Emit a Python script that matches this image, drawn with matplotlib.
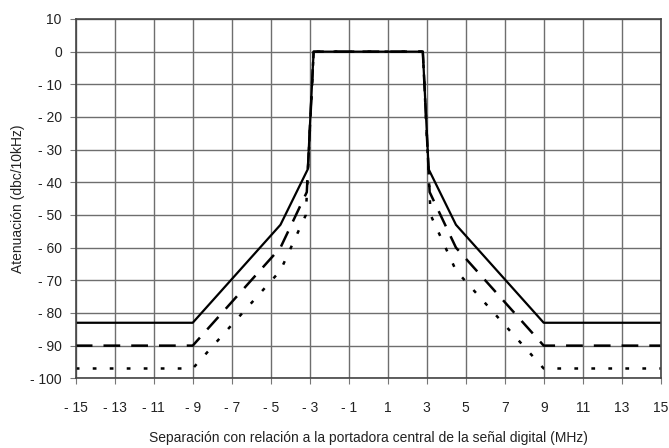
import matplotlib
matplotlib.use("Agg")
import matplotlib.pyplot as plt

plt.rcParams['font.family'] = ['Liberation Sans', 'DejaVu Sans']

x_solid = [-15, -9, -4.5, -3.1, -2.8, 2.8, 3.1, 4.5, 9, 15]
y_solid = [-83, -83, -53, -36, 0, 0, -36, -53, -83, -83]

x_dashed = [-15, -9, -4.5, -3.15, -2.8, 2.8, 3.15, 4.5, 9, 15]
y_dashed = [-90, -90, -60, -43, 0, 0, -43, -60, -90, -90]

x_dotted = [-15, -9, -4.5, -3.2, -2.8, 2.8, 3.2, 4.5, 9, 15]
y_dotted = [-97, -97, -67, -50, 0, 0, -50, -67, -97, -97]

xticks = list(range(-15, 16, 2))
yticks = list(range(-100, 11, 10))

def fmt(v):
    return f"- {abs(v)}" if v < 0 else f"{v}"

fig = plt.figure(figsize=(6.69, 4.48), dpi=100)
ax = fig.add_axes([0.1132, 0.1556, 0.8744, 0.802])

ax.plot(x_dotted, y_dotted, color='black', lw=1.8, linestyle=(0, (1.5, 5.3)))
ax.plot(x_dashed, y_dashed, color='black', lw=1.8, linestyle=(0, (6.7, 4.4)))
ax.plot(x_solid, y_solid, color='black', lw=1.6)

ax.set_xlim(-15, 15)
ax.set_ylim(-100, 10)
ax.set_xticks(xticks)
ax.set_yticks(yticks)
ax.set_xticklabels([fmt(v) for v in xticks])
ax.set_yticklabels([fmt(v) for v in yticks])
ax.grid(True, color='#6e6e6e', lw=1.0)
ax.set_axisbelow(True)
for s in ax.spines.values():
    s.set_color('#444444')
    s.set_linewidth(1.2)
ax.tick_params(axis='both', length=4, color='#777777', labelsize=10, labelcolor='#222222', pad=6)
ax.tick_params(axis='x', pad=12)

ax.set_ylabel("Atenuación (dbc/10kHz)", fontsize=10, color='#222222')
ax.set_xlabel("Separación con relación a la portadora central de la señal digital (MHz)",
              fontsize=10, labelpad=12, color='#222222')

fig.savefig("out.png", dpi=100)
